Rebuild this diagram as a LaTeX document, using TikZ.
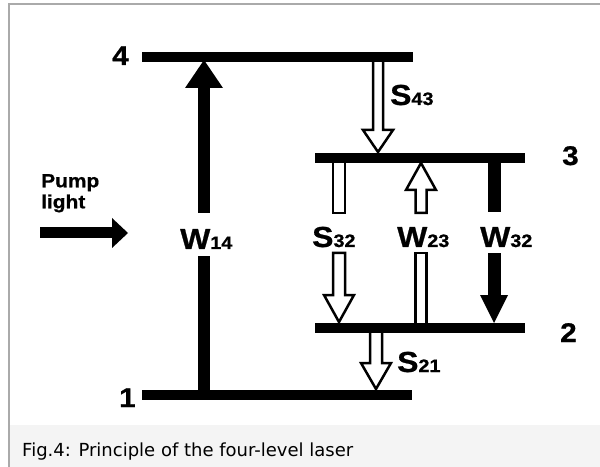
\documentclass[tikz,border=0pt]{standalone}
\usepackage{fontspec}
\newfontfamily\labfont{Liberation Sans}[FakeStretch=1.1, FakeBold=0.8]
\newfontfamily\capfont{DejaVu Sans}
\definecolor{framegray}{HTML}{AAAAAA}
\definecolor{capbg}{HTML}{F4F4F4}
\newcommand\lbl[2]{{\fontsize{29bp}{29bp}\selectfont #1}{\fontsize{18bp}{18bp}\selectfont #2}}
% hollow arrow: x, shaft end, head base, tip, shaft half width
\newcommand\hollowarrow[5]{\draw[hollow] ({#1-#5},{#2}) -- ({#1-#5},{#3}) -- ({#1-15},{#3}) -- ({#1},{#4}) -- ({#1+15},{#3}) -- ({#1+#5},{#3}) -- ({#1+#5},{#2}) -- cycle;}
\tikzset{
  levelline/.style={line width=10bp},
  hollow/.style={draw=black, line width=2.5bp, fill=white, line join=miter},
  lab/.style={inner sep=0pt, anchor=base west, font=\labfont\bfseries},
  levnum/.style={inner sep=0pt, anchor=base west, font=\labfont\bfseries\fontsize{27bp}{27bp}\selectfont},
}
\begin{document}
\begin{tikzpicture}[x=1bp,y=-1bp]
\useasboundingbox (0,0) rectangle (600,467);
\fill[white] (0,0) rectangle (600,467);
\fill[capbg] (9,425) rectangle (600,467);
\draw[framegray, line width=2bp] (9,467) -- (9,4) -- (600,4);

% level coordinates
\coordinate (l4a) at (142,57);  \coordinate (l4b) at (413,57);
\coordinate (l3a) at (315,158); \coordinate (l3b) at (525,158);
\coordinate (l2a) at (315,328); \coordinate (l2b) at (525,328);
\coordinate (l1a) at (142,395); \coordinate (l1b) at (412,395);

% W14 pump arrow (solid)
\fill (198,395) rectangle (210,256);
\fill (198,213) rectangle (210,86);
\fill (185,88) -- (223,88) -- (204,60) -- cycle;

% S43
\hollowarrow{378}{58}{130}{152}{5}
% S32
\draw[hollow] (333,155) rectangle (345,213);
\hollowarrow{339}{253}{295}{322}{6}
% W23
\hollowarrow{421}{213}{190}{163}{5.5}
\draw[hollow] (415.5,253) rectangle (426.5,330);
% W32 (solid)
\fill (487.5,158) rectangle (500.5,212);
\fill (487.5,253) rectangle (500.5,296);
\fill (480,295) -- (508,295) -- (494,323) -- cycle;
% S21
\hollowarrow{376}{330}{363}{389}{6}

% levels
\draw[levelline] (l4a) -- (l4b);
\draw[levelline] (l3a) -- (l3b);
\draw[levelline] (l2a) -- (l2b);
\draw[levelline] (l1a) -- (l1b);

% pump light arrow
\fill (40,227.5) rectangle (113,238.5);
\fill (112,218) -- (112,248) -- (128,233) -- cycle;

% labels
\node[levnum] (n4) at (112,65) {4};
\node[levnum] (n3) at (562,165) {3};
\node[levnum] (n2) at (560,342) {2};
\node[levnum] (n1) at (119,407) {1};
\node[lab] (s43) at (390,105) {\lbl{S}{43}};
\node[lab] (w14) at (180,249) {\lbl{W}{14}};
\node[lab] (s32) at (312,247) {\lbl{S}{32}};
\node[lab] (w23) at (397,247) {\lbl{W}{23}};
\node[lab] (w32) at (480,247) {\lbl{W}{32}};
\node[lab] (s21) at (397,372) {\lbl{S}{21}};
\node[lab, align=left, anchor=north west, font=\labfont\bfseries\fontsize{19bp}{21bp}\selectfont] (pump) at (41,174) {Pump\\light};

\node[inner sep=0pt, anchor=base west, font=\capfont\fontsize{18bp}{18bp}\selectfont] (cap) at (22,456) {Fig.4: Principle of the four-level laser};
\end{tikzpicture}
\end{document}
